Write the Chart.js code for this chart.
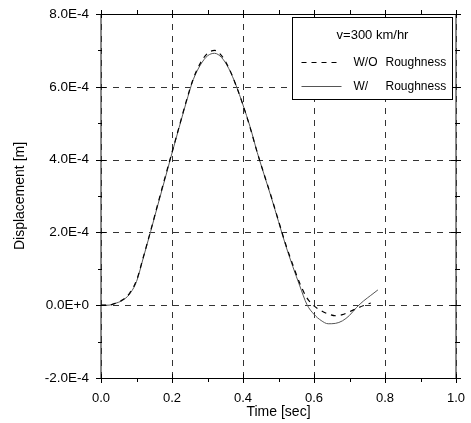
<!DOCTYPE html>
<html>
<head>
<meta charset="utf-8">
<script src="https://cdn.jsdelivr.net/npm/chart.js@4"></script>
<style>
  html, body { margin: 0; padding: 0; background: #fff; }
</style>
</head>
<body>
<canvas id="graficoDeslocamento" width="471" height="423"></canvas>
<script>
// Dados (tempo em s, deslocamento em m)
const tempo = [0.00, 0.02, 0.04, 0.06, 0.08, 0.10, 0.12, 0.14, 0.16, 0.18,
               0.20, 0.22, 0.24, 0.26, 0.28, 0.30, 0.32, 0.34, 0.36, 0.38,
               0.40, 0.42, 0.44, 0.46, 0.48, 0.50, 0.52, 0.54, 0.56, 0.58,
               0.60, 0.62, 0.64, 0.66, 0.68, 0.70, 0.72, 0.74, 0.76, 0.78];
// W/O Roughness (tracejado)
const semRugosidade = [0, 0, 0.05e-4, 0.14e-4, 0.32e-4, 0.68e-4, 1.35e-4, 2.05e-4, 2.78e-4, 3.50e-4,
                       4.20e-4, 4.90e-4, 5.60e-4, 6.22e-4, 6.65e-4, 6.92e-4, 7.00e-4, 6.85e-4, 6.52e-4, 6.05e-4,
                       5.50e-4, 4.88e-4, 4.20e-4, 3.58e-4, 2.97e-4, 2.32e-4, 1.68e-4, 1.12e-4, 0.60e-4, 0.20e-4,
                       -0.02e-4, -0.15e-4, -0.24e-4, -0.29e-4, -0.26e-4, -0.18e-4, -0.09e-4, -0.01e-4, 0.06e-4, null];
// W/ Roughness (continuo)
const comRugosidade = [0, 0, 0.05e-4, 0.13e-4, 0.30e-4, 0.65e-4, 1.33e-4, 2.03e-4, 2.75e-4, 3.46e-4,
                       4.18e-4, 4.88e-4, 5.57e-4, 6.20e-4, 6.60e-4, 6.85e-4, 6.92e-4, 6.80e-4, 6.50e-4, 6.05e-4,
                       5.50e-4, 4.90e-4, 4.20e-4, 3.57e-4, 2.95e-4, 2.30e-4, 1.65e-4, 1.07e-4, 0.53e-4, 0.02e-4,
                       -0.25e-4, -0.42e-4, -0.51e-4, -0.50e-4, -0.43e-4, -0.28e-4, -0.06e-4, 0.12e-4, 0.27e-4, 0.42e-4];
const ticksX = [0, 0.2, 0.4, 0.6, 0.8, 1.0];
const ticksY = [-2e-4, 0, 2e-4, 4e-4, 6e-4, 8e-4];
const tituloLegenda = 'v=300 km/hr';
const rotulos = ['W/O  Roughness', 'W/  Roughness'];

const fonte = 'Liberation Sans, Arial, sans-serif';

function formatoE(v) {
  if (Math.abs(v) < 1e-12) return '0.0E+0';
  return v.toExponential(1).toUpperCase();
}

function pontos(serie) {
  return tempo.map((t, i) => ({ x: t, y: serie[i] }));
}

// zera o padding automatico das escalas para a area do grafico ficar fixa
function semPadding(s) {
  s.paddingTop = 0; s.paddingBottom = 0; s.paddingLeft = 0; s.paddingRight = 0;
}

// Moldura, grade tracejada, marcas e legenda
const moldura = {
  id: 'moldura',
  beforeDatasetsDraw(chart) {
    const { ctx, chartArea: a, scales: { x, y } } = chart;
    ctx.save();
    ctx.strokeStyle = '#8a8a8a';
    ctx.lineWidth = 2;
    ctx.beginPath();
    ctx.moveTo(a.left, a.top); ctx.lineTo(a.left, a.bottom);
    ctx.moveTo(a.right, a.top); ctx.lineTo(a.right, a.bottom);
    ctx.stroke();

    ctx.strokeStyle = '#333';
    ctx.lineWidth = 1;
    ctx.setLineDash([6, 6]);
    ctx.beginPath();
    ticksX.forEach(v => {
      const px = Math.round(x.getPixelForValue(v)) + 0.5;
      ctx.moveTo(px, a.bottom); ctx.lineTo(px, a.top);
    });
    ticksY.slice(1, -1).forEach(v => {
      const py = Math.round(y.getPixelForValue(v)) + 0.5;
      ctx.moveTo(a.left, py); ctx.lineTo(a.right, py);
    });
    ctx.stroke();
    ctx.restore();
  },
  afterDatasetsDraw(chart) {
    const { ctx, chartArea: a, scales: { x, y } } = chart;
    ctx.save();
    ctx.strokeStyle = '#000';
    ctx.lineWidth = 1;
    ctx.beginPath();
    ctx.moveTo(a.left - 1, a.top + 0.5); ctx.lineTo(a.right + 1, a.top + 0.5);
    ctx.moveTo(a.left - 1, a.bottom + 0.5); ctx.lineTo(a.right + 1, a.bottom + 0.5);

    // marcas do eixo x
    ticksX.forEach((v, i) => {
      const px = Math.round(x.getPixelForValue(v)) + 0.5;
      ctx.moveTo(px, a.bottom - 4); ctx.lineTo(px, a.bottom + 5);
      ctx.moveTo(px, a.top - 4); ctx.lineTo(px, a.top + 4);
      if (i < ticksX.length - 1) {
        const pm = Math.round(x.getPixelForValue((v + ticksX[i + 1]) / 2)) + 0.5;
        ctx.moveTo(pm, a.bottom); ctx.lineTo(pm, a.bottom + 4);
        ctx.moveTo(pm, a.top - 4); ctx.lineTo(pm, a.top);
      }
    });
    // marcas do eixo y
    ticksY.forEach((v, i) => {
      const py = Math.round(y.getPixelForValue(v)) + 0.5;
      ctx.moveTo(a.left - 5, py); ctx.lineTo(a.left + 5, py);
      ctx.moveTo(a.right - 5, py); ctx.lineTo(a.right + 5, py);
      if (i < ticksY.length - 1) {
        const pm = Math.round(y.getPixelForValue((v + ticksY[i + 1]) / 2)) + 0.5;
        ctx.moveTo(a.left - 3, pm); ctx.lineTo(a.left + 1, pm);
        ctx.moveTo(a.right - 1, pm); ctx.lineTo(a.right + 4, pm);
      }
    });
    ctx.stroke();

    // legenda
    const bx = a.right - 163.5, by = a.top + 3.5, bw = 160, bh = 82;
    ctx.fillStyle = '#fff';
    ctx.fillRect(bx, by, bw, bh);
    ctx.strokeRect(bx, by, bw, bh);
    ctx.fillStyle = '#000';
    ctx.font = '13px ' + fonte;
    ctx.textBaseline = 'middle';
    ctx.textAlign = 'center';
    ctx.fillText(tituloLegenda, bx + 80, by + 18);
    ctx.textAlign = 'left';
    ctx.font = '12px ' + fonte;
    chart.data.datasets.forEach((ds, i) => {
      const ly = by + 45 + i * 24;
      ctx.strokeStyle = ds.borderColor;
      ctx.lineWidth = ds.borderWidth;
      ctx.setLineDash(ds.borderDash || []);
      ctx.beginPath();
      ctx.moveTo(bx + 9, ly); ctx.lineTo(bx + 49, ly);
      ctx.stroke();
      const partes = rotulos[i].split(/\s+/);
      ctx.fillText(partes[0], bx + 61, ly);
      ctx.fillText(partes[1], bx + 93, ly);
    });
    ctx.restore();
  }
};

const ctx = document.getElementById('graficoDeslocamento').getContext('2d');
new Chart(ctx, {
  type: 'line',
  data: {
    datasets: [{
      label: rotulos[0],
      data: pontos(semRugosidade),
      borderColor: '#000',
      borderWidth: 1.2,
      borderDash: [5, 5],
      pointRadius: 0,
      cubicInterpolationMode: 'monotone',
      fill: false
    }, {
      label: rotulos[1],
      data: pontos(comRugosidade),
      borderColor: '#555',
      borderWidth: 1,
      pointRadius: 0,
      cubicInterpolationMode: 'monotone',
      fill: false
    }]
  },
  options: {
    responsive: false,
    animation: false,
    devicePixelRatio: 1,
    layout: { padding: { top: 14, right: 15, left: 0, bottom: 0 } },
    plugins: { legend: { display: false }, tooltip: { enabled: false } },
    scales: {
      x: {
        type: 'linear',
        min: 0, max: 1,
        afterBuildTicks: s => { s.ticks = ticksX.map(v => ({ value: v })); },
        afterFit: s => { s.height = 45; semPadding(s); },
        grid: { display: false, drawTicks: false },
        border: { display: false },
        ticks: { color: '#000', padding: 13, font: { family: fonte, size: 13 },
                 callback: v => v.toFixed(1), maxRotation: 0 },
        title: { display: true, text: 'Time [sec]', color: '#000',
                 font: { family: fonte, size: 14 }, padding: { top: 0, bottom: 2 } }
      },
      y: {
        type: 'linear',
        min: -2e-4, max: 8e-4,
        afterBuildTicks: s => { s.ticks = ticksY.map(v => ({ value: v })); },
        afterFit: s => { s.width = 101; semPadding(s); },
        grid: { display: false, drawTicks: false },
        border: { display: false },
        ticks: { color: '#000', padding: 12, font: { family: fonte, size: 13.5 },
                 callback: v => formatoE(v) },
        title: { display: true, text: 'Displacement [m]', color: '#000',
                 font: { family: fonte, size: 14 }, padding: { top: 12, bottom: 0 } }
      }
    }
  },
  plugins: [moldura]
});
</script>
</body>
</html>
